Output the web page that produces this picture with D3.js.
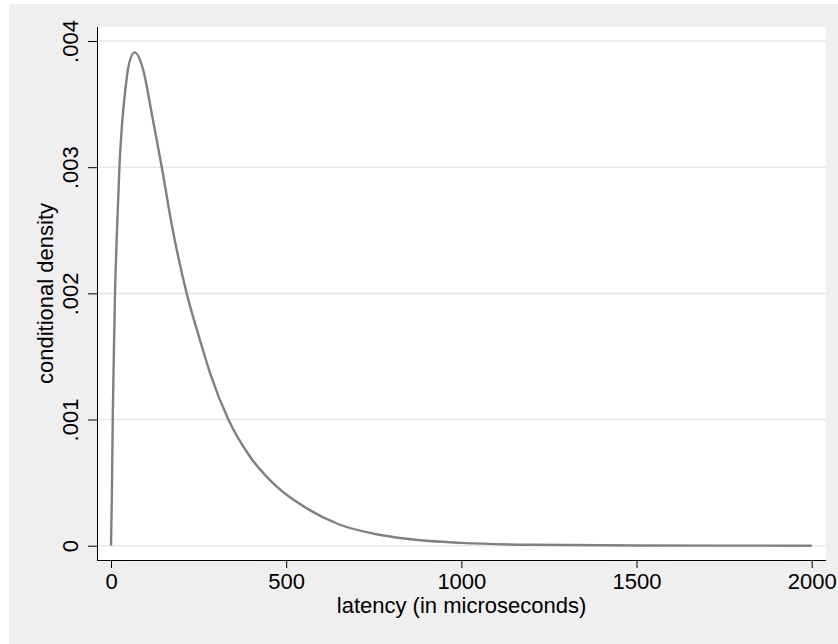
<!DOCTYPE html>
<html>
<head>
<meta charset="utf-8">
<script src="https://cdnjs.cloudflare.com/ajax/libs/d3/7.8.5/d3.min.js"></script>
<style>
  body { margin: 0; background: #fff; }
  svg { display: block; font-family: "Liberation Sans", Arial, sans-serif; }
</style>
</head>
<body>
<div id="canvas"></div>
<script>
// values
var latency = [0, 2.5, 5, 8, 11.5, 16.5, 24, 31, 40, 50, 67, 92, 116, 145, 173, 216, 254, 283, 335, 397, 473, 559, 650, 750, 850, 1000, 1200, 1500, 2000];
var density = [0, 0.0004, 0.001, 0.0015, 0.002, 0.00245, 0.003, 0.00332, 0.00359, 0.0038, 0.00391, 0.00377, 0.00343, 0.003, 0.00255, 0.002, 0.00163, 0.001366, 0.001, 0.000705, 0.000468, 0.000296, 0.00017, 0.000095, 0.000053, 0.000022, 0.000007, 0.0000012, 0];
var xTicks = [0, 500, 1000, 1500, 2000];
var yTicks = [0, 0.001, 0.002, 0.003, 0.004];
var yTickLabels = ['0', '.001', '.002', '.003', '.004'];

var W = 838, H = 644;
var frame = {l: 97, r: 826, t: 27, b: 560};

var svg = d3.select('#canvas').append('svg')
    .attr('width', W).attr('height', H);

// outer panel
svg.append('rect').attr('x', 9).attr('y', 4).attr('width', W - 9).attr('height', H - 4)
    .style('fill', '#efefef');
// plot region
svg.append('rect').attr('x', frame.l).attr('y', frame.t)
    .attr('width', frame.r - frame.l).attr('height', frame.b - frame.t)
    .style('fill', '#fff');

var x = d3.scaleLinear().domain([0, 2000]).range([111, 811.7]);
var y = d3.scaleLinear().domain([0, 0.004]).range([545.7, 41]);

// gridlines
svg.append('g').selectAll('line')
    .data(yTicks).enter().append('line')
    .attr('x1', frame.l).attr('x2', frame.r)
    .attr('y1', function(d){return y(d)}).attr('y2', function(d){return y(d)})
    .style('stroke', '#e7e7e7').style('stroke-width', '1.6px');

// the curve
var data = latency.map(function(v, i){ return {x: v, y: density[i]}; });
var line = d3.line()
    .x(function(d){return x(d.x)}).y(function(d){return y(d.y)})
    .curve(d3.curveMonotoneX);

svg.append('path').datum(data)
    .attr('d', line)
    .style('fill', 'none')
    .style('stroke', '#808080')
    .style('stroke-width', '2.4px')
    .style('stroke-linejoin', 'round');

// axes
var yAxis = svg.append('g')
    .attr('transform', 'translate(' + frame.l + ',0)')
    .call(d3.axisLeft(y).tickValues(yTicks).tickSize(9)
        .tickFormat(function(d, i){ return yTickLabels[i]; }));
yAxis.select('.domain').attr('d', 'M0.5,' + frame.t + 'V' + frame.b);
yAxis.selectAll('.tick text')
    .attr('x', null).attr('dy', null)
    .attr('text-anchor', 'middle')
    .attr('transform', 'translate(-19,0) rotate(-90)');

var xAxis = svg.append('g')
    .attr('transform', 'translate(0,' + frame.b + ')')
    .call(d3.axisBottom(x).tickValues(xTicks).tickSize(8).tickFormat(d3.format('d')));
xAxis.select('.domain').attr('d', 'M' + frame.l + ',0.5H' + frame.r);
xAxis.selectAll('.tick text').attr('y', 29).attr('dy', null);

svg.selectAll('.domain, .tick line').style('stroke', '#000').style('stroke-width', '1px');
svg.selectAll('.tick text').style('font-size', '22px').style('fill', '#000')
    .style('font-family', '"Liberation Sans", Arial, sans-serif');

// axis titles
svg.append('text')
    .attr('x', (frame.l + frame.r) / 2).attr('y', 613)
    .attr('text-anchor', 'middle')
    .style('font-size', '22px')
    .text('latency (in microseconds)');

svg.append('text')
    .attr('transform', 'translate(53,' + ((frame.t + frame.b) / 2) + ') rotate(-90)')
    .attr('text-anchor', 'middle')
    .style('font-size', '22px')
    .text('conditional density');
</script>
</body>
</html>
